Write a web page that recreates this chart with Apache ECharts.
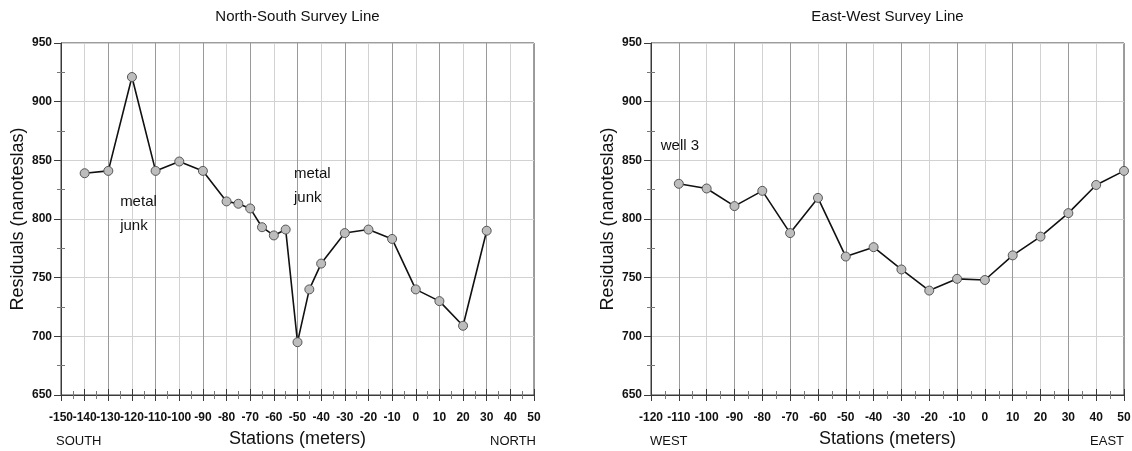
<!DOCTYPE html>
<html>
<head>
<meta charset="utf-8">
<script src="https://cdn.jsdelivr.net/npm/echarts@6/dist/echarts.min.js"></script>
<style>
  html, body { margin: 0; padding: 0; background: #fff; }
  #chart { width: 1132px; height: 451px; }
</style>
</head>
<body>
<div id="chart"></div>
<script>
// North-South line: station (m) and residual (nT)
const nsStations = [-140, -130, -120, -110, -100, -90, -80, -75, -70, -65, -60, -55, -50, -45, -40, -30, -20, -10, 0, 10, 20, 30];
const nsResiduals = [839, 841, 921, 841, 849, 841, 815, 813, 809, 793, 786, 791, 695, 740, 762, 788, 791, 783, 740, 730, 709, 790];

// East-West line
const ewStations = [-110, -100, -90, -80, -70, -60, -50, -40, -30, -20, -10, 0, 10, 20, 30, 40, 50];
const ewResiduals = [830, 826, 811, 824, 788, 818, 768, 776, 757, 739, 749, 748, 769, 785, 805, 829, 841];

// Axis ranges
const nsRange = [-150, 50];
const ewRange = [-120, 50];
const yRange = [650, 950];

// Notes written on the plots: [station, residual, text]
const nsNotes = [[-125, 804, 'metal\njunk'], [-51.5, 828, 'metal\njunk']];
const ewNotes = [[-116.5, 862, 'well 3']];

const FONT = '"Liberation Sans", Arial, Helvetica, sans-serif';
const DARK = '#3a3a3a';

function pairs(xs, ys) { return xs.map((x, i) => [x, ys[i]]); }

const tickLabel = { margin: 17, fontFamily: FONT, fontSize: 12, fontWeight: 'bold', color: '#111' };

// Two axes share each bottom edge: one carries the outer ticks, the axis name
// and every label except the first; the other carries the inner ticks and the
// first label, so the tightly packed labels all stay visible.
function xAxes(gridIndex, range, splitColors) {
  return [
    {
      gridIndex, type: 'value', min: range[0], max: range[1], interval: 10, position: 'bottom',
      name: 'Stations (meters)', nameLocation: 'middle', nameGap: 35,
      nameTextStyle: { fontFamily: FONT, fontSize: 18, color: '#111' },
      axisLine: { show: true, onZero: false, lineStyle: { color: DARK, width: 1 } },
      axisTick: { show: true, length: 6, lineStyle: { color: DARK } },
      minorTick: { show: true, splitNumber: 2, length: 4, lineStyle: { color: '#777' } },
      axisLabel: Object.assign({ show: true, interval: 0, hideOverlap: false,
        formatter: v => (v === range[0] ? '' : String(v)) }, tickLabel),
      splitLine: { show: true, lineStyle: { color: splitColors, width: 1 } },
      minorSplitLine: { show: false }
    },
    {
      gridIndex, type: 'value', min: range[0], max: range[1], interval: 10, position: 'bottom',
      axisLine: { show: false, onZero: false },
      axisTick: { show: true, inside: true, length: 6, lineStyle: { color: DARK } },
      minorTick: { show: true, splitNumber: 2, length: 4, lineStyle: { color: '#777' } },
      axisLabel: Object.assign({ show: true, interval: 0, hideOverlap: false, showMinLabel: true,
        formatter: v => (v === range[0] ? String(v) : '') }, tickLabel),
      splitLine: { show: false }
    }
  ];
}

function yAxes(gridIndex) {
  return [
    {
      gridIndex, type: 'value', min: yRange[0], max: yRange[1], interval: 50, position: 'left',
      name: 'Residuals (nanoteslas)', nameLocation: 'middle', nameGap: 34,
      nameTextStyle: { fontFamily: FONT, fontSize: 18, color: '#111' },
      axisLine: { show: true, onZero: false, lineStyle: { color: DARK, width: 1 } },
      axisTick: { show: true, length: 7, lineStyle: { color: DARK } },
      minorTick: { show: true, splitNumber: 2, length: 4, lineStyle: { color: '#777' } },
      axisLabel: { show: true, showMinLabel: true, showMaxLabel: true, margin: 9,
        fontFamily: FONT, fontSize: 12, fontWeight: 'bold', color: '#111' },
      splitLine: { show: true, lineStyle: { color: '#d2d2d2', width: 1 } }
    },
    {
      gridIndex, type: 'value', min: yRange[0], max: yRange[1], interval: 50, position: 'left',
      axisLine: { show: false, onZero: false },
      axisTick: { show: false, inside: true, length: 4 },
      minorTick: { show: true, splitNumber: 2, length: 4, lineStyle: { color: '#777' } },
      axisLabel: { show: false }, splitLine: { show: false }
    }
  ];
}

function notesPoint(notes) {
  return {
    symbol: 'rect', symbolSize: 1, silent: true,
    itemStyle: { color: 'rgba(0,0,0,0)' },
    label: {
      show: true, position: 'inside', align: 'left', verticalAlign: 'middle',
      fontFamily: FONT, fontSize: 15, lineHeight: 24, color: '#111',
      formatter: p => p.data.note
    },
    data: notes.map(n => ({ coord: [n[0], n[1]], note: n[2] }))
  };
}

function lineSeries(xi, yi, xs, ys, notes) {
  return {
    type: 'line', xAxisIndex: xi, yAxisIndex: yi,
    data: pairs(xs, ys),
    symbol: 'circle', symbolSize: 9,
    lineStyle: { color: '#111', width: 1.6 },
    itemStyle: { color: '#bdbdbd', borderColor: '#555', borderWidth: 1 },
    emphasis: { disabled: true },
    animation: false,
    markPoint: notesPoint(notes)
  };
}

const gridBase = { top: 43, width: 473, height: 352, show: true,
  borderColor: DARK, borderWidth: 1, backgroundColor: 'transparent',
  containLabel: false, outerBoundsMode: 'none' };

const textStyle = (t, size) => ({ text: t, fontFamily: FONT, fontSize: size, fill: '#111' });

const option = {
  animation: false,
  grid: [
    Object.assign({ left: 61 }, gridBase),
    Object.assign({ left: 651 }, gridBase)
  ],
  xAxis: [
    ...xAxes(0, nsRange, ['#9a9a9a', '#d2d2d2']),
    ...xAxes(1, ewRange, ['#d2d2d2', '#9a9a9a'])
  ],
  yAxis: [...yAxes(0), ...yAxes(1)],
  series: [
    lineSeries(0, 0, nsStations, nsResiduals, nsNotes),
    lineSeries(2, 2, ewStations, ewResiduals, ewNotes)
  ],
  graphic: [
    { type: 'text', x: 297.5, y: 17, style: Object.assign(textStyle('North-South Survey Line', 15), { align: 'center', verticalAlign: 'middle' }) },
    { type: 'text', x: 887.5, y: 17, style: Object.assign(textStyle('East-West Survey Line', 15), { align: 'center', verticalAlign: 'middle' }) },
    { type: 'text', x: 56, y: 441, style: Object.assign(textStyle('SOUTH', 13), { align: 'left', verticalAlign: 'middle' }) },
    { type: 'text', x: 536, y: 441, style: Object.assign(textStyle('NORTH', 13), { align: 'right', verticalAlign: 'middle' }) },
    { type: 'text', x: 650, y: 441, style: Object.assign(textStyle('WEST', 13), { align: 'left', verticalAlign: 'middle' }) },
    { type: 'text', x: 1124, y: 441, style: Object.assign(textStyle('EAST', 13), { align: 'right', verticalAlign: 'middle' }) }
  ]
};

const chart = echarts.init(document.getElementById('chart'), null, { renderer: 'canvas' });
chart.setOption(option);
</script>
</body>
</html>
